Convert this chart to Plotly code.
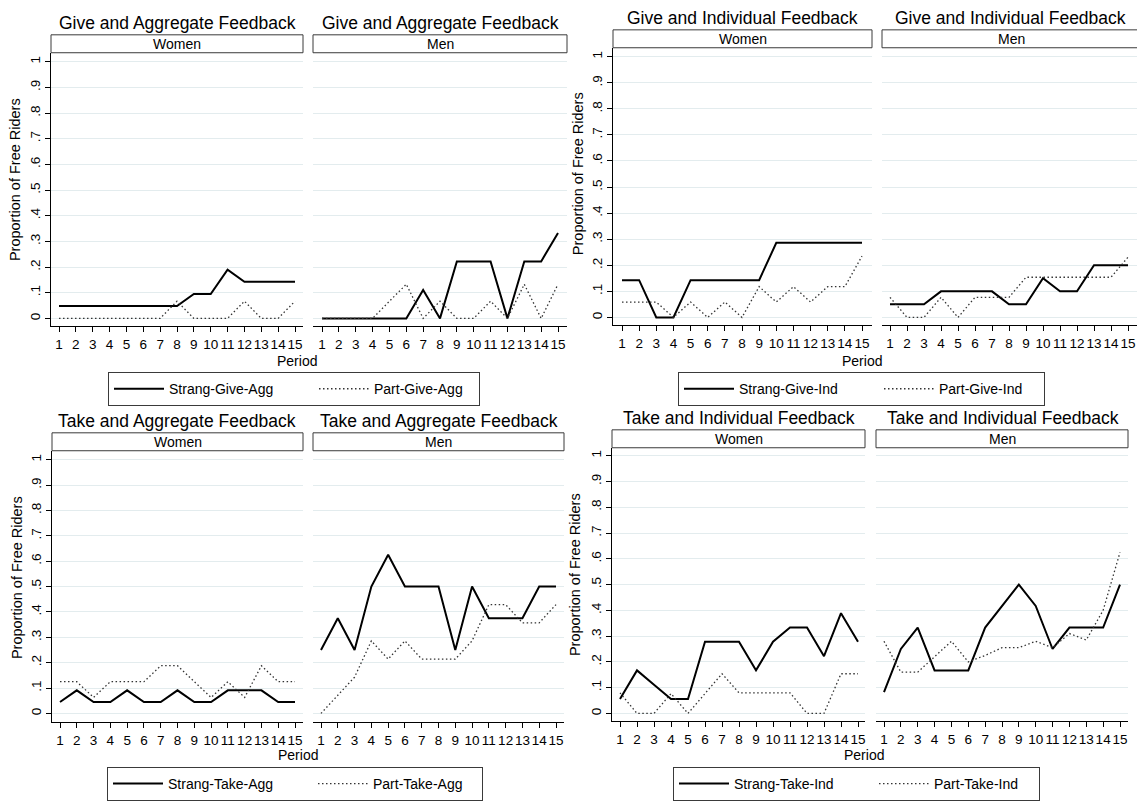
import plotly.graph_objects as go

W, H = 1137, 801
FONT = "Arial, 'Liberation Sans', Helvetica, sans-serif"

periods = list(range(1, 16))
y_tickvals = [0, 0.1, 0.2, 0.3, 0.4, 0.5, 0.6, 0.7, 0.8, 0.9, 1.0]
y_ticktext = ["0", ".1", ".2", ".3", ".4", ".5", ".6", ".7", ".8", ".9", "1"]

panel_titles = ["Give and Aggregate Feedback", "Give and Individual Feedback",
                "Take and Aggregate Feedback", "Take and Individual Feedback"]
strip_labels = ["Women", "Men"]
legend_labels = [("Strang-Give-Agg", "Part-Give-Agg"),
                 ("Strang-Give-Ind", "Part-Give-Ind"),
                 ("Strang-Take-Agg", "Part-Take-Agg"),
                 ("Strang-Take-Ind", "Part-Take-Ind")]
y_title = "Proportion of Free Riders"
x_title = "Period"

# ---- data: Give & Aggregate ----
give_agg_women_strang = [0.048, 0.048, 0.048, 0.048, 0.048, 0.048, 0.048, 0.048, 0.095, 0.095, 0.190, 0.143, 0.143, 0.143, 0.143]
give_agg_women_part   = [0, 0, 0, 0, 0, 0, 0, 0.067, 0, 0, 0, 0.067, 0, 0, 0.067]
give_agg_men_strang   = [0, 0, 0, 0, 0, 0, 0.111, 0, 0.222, 0.222, 0.222, 0, 0.222, 0.222, 0.333]
give_agg_men_part     = [0, 0, 0, 0, 0.067, 0.133, 0, 0.067, 0, 0, 0.067, 0, 0.133, 0, 0.133]
# ---- data: Give & Individual ----
give_ind_women_strang = [0.143, 0.143, 0, 0, 0.143, 0.143, 0.143, 0.143, 0.143, 0.286, 0.286, 0.286, 0.286, 0.286, 0.286]
give_ind_women_part   = [0.059, 0.059, 0.059, 0, 0.059, 0, 0.059, 0, 0.118, 0.059, 0.118, 0.059, 0.118, 0.118, 0.235]
give_ind_men_strang   = [0.05, 0.05, 0.05, 0.1, 0.1, 0.1, 0.1, 0.05, 0.05, 0.15, 0.1, 0.1, 0.2, 0.2, 0.2]
give_ind_men_part     = [0.077, 0, 0, 0.077, 0, 0.077, 0.077, 0.077, 0.154, 0.154, 0.154, 0.154, 0.154, 0.154, 0.231]
# ---- data: Take & Aggregate ----
take_agg_women_strang = [0.045, 0.091, 0.045, 0.045, 0.091, 0.045, 0.045, 0.091, 0.045, 0.045, 0.091, 0.091, 0.091, 0.045, 0.045]
take_agg_women_part   = [0.125, 0.125, 0.063, 0.125, 0.125, 0.125, 0.188, 0.188, 0.125, 0.063, 0.125, 0.063, 0.188, 0.125, 0.125]
take_agg_men_strang   = [0.25, 0.375, 0.25, 0.5, 0.625, 0.5, 0.5, 0.5, 0.25, 0.5, 0.375, 0.375, 0.375, 0.5, 0.5]
take_agg_men_part     = [0, 0.071, 0.143, 0.286, 0.214, 0.286, 0.214, 0.214, 0.214, 0.286, 0.429, 0.429, 0.357, 0.357, 0.429]
# ---- data: Take & Individual ----
take_ind_women_strang = [0.056, 0.167, 0.111, 0.056, 0.056, 0.278, 0.278, 0.278, 0.167, 0.278, 0.333, 0.333, 0.222, 0.389, 0.278]
take_ind_women_part   = [0.08, 0, 0, 0.077, 0, 0.077, 0.154, 0.08, 0.08, 0.08, 0.08, 0, 0, 0.154, 0.154]
take_ind_men_strang   = [0.083, 0.25, 0.333, 0.167, 0.167, 0.167, 0.333, 0.417, 0.5, 0.417, 0.25, 0.333, 0.333, 0.333, 0.5]
take_ind_men_part     = [0.28, 0.16, 0.16, 0.22, 0.28, 0.2, 0.225, 0.255, 0.255, 0.28, 0.255, 0.31, 0.285, 0.4, 0.625]

series = [
    (give_agg_women_strang, give_agg_women_part, give_agg_men_strang, give_agg_men_part),
    (give_ind_women_strang, give_ind_women_part, give_ind_men_strang, give_ind_men_part),
    (take_agg_women_strang, take_agg_women_part, take_agg_men_strang, take_agg_men_part),
    (take_ind_women_strang, take_ind_women_part, take_ind_men_strang, take_ind_men_part),
]

# ---- layout geometry (pixels) ----
# subplot: left, right, top, bottom, px(x=1), px(x=15), py(y=1), py(y=0)
sub_geo = [
    [(51, 303, 53, 328, 59, 295, 62, 320), (313, 567, 53, 328, 322, 558, 62, 320)],
    [(613, 872, 48, 327, 622, 862, 57, 319), (882, 1140, 48, 327, 890, 1128, 57, 319)],
    [(52, 303, 453, 726, 60, 295, 462, 717), (313, 564, 453, 726, 321, 556, 462, 717)],
    [(612, 865, 450, 725, 620, 858, 458, 717), (876, 1128, 450, 725, 884, 1120, 458, 717)],
]
strip_top = [35, 30, 435, 432]
title_pos = [((177, 440), 23), ((742, 1010), 18), ((177, 439), 423), ((739, 1003), 420)]
ytitle_pos = [(15, 181), (578, 175), (17, 581), (575, 578)]
xtitle_pos = [(297, 363), (862, 363), (298, 759), (864, 759)]
legend_pos = [(108, 374), (678, 374), (107, 771), (673, 771)]
legend_item_w = [(140, 100), (135, 100), (140, 104), (135, 100)]


def fx(px):
    return px / W


def fy(py):
    return 1 - py / H


fig = go.Figure()
layout = dict(width=W, height=H, margin=dict(l=0, r=0, t=0, b=0), autosize=False,
              paper_bgcolor="white", plot_bgcolor="white",
              font=dict(family=FONT, color="black"), showlegend=True)
shapes, annotations = [], []

GRID = "#e3ecee"
DOT = "1.5px,2.5px"
n = 0
for p in range(4):
    lname = "legend" if p == 0 else f"legend{p + 1}"
    for g in range(2):
        n += 1
        left, right, top, bottom, px1, px15, py1, py0 = sub_geo[p][g]
        ux = (px15 - px1) / 14
        uy = py0 - py1
        xr = [1 - (px1 - left) / ux, 15 + (min(right, W) - px15) / ux]
        yr = [-(bottom - py0) / uy, 1 + (py1 - top) / uy]
        xa = "xaxis" if n == 1 else f"xaxis{n}"
        ya = "yaxis" if n == 1 else f"yaxis{n}"
        xref = "x" if n == 1 else f"x{n}"
        yref = "y" if n == 1 else f"y{n}"
        layout[xa] = dict(domain=[fx(left), min(fx(right), 1.0)], range=xr, anchor=yref,
                          tickvals=periods, ticktext=[str(v) for v in periods],
                          tickangle=0,
                          showline=True, linecolor="black", linewidth=1,
                          ticks="outside", ticklen=5, tickcolor="black", tickwidth=1,
                          showgrid=False, zeroline=False, fixedrange=True,
                          tickfont=dict(size=13.5, family=FONT, color="black"))
        show_y = (g == 0)
        layout[ya] = dict(domain=[fy(bottom), fy(top)], range=yr, anchor=xref,
                          tickvals=y_tickvals, ticktext=y_ticktext,
                          showline=show_y, linecolor="black", linewidth=1,
                          ticks="outside" if show_y else "", ticklen=5, tickcolor="black",
                          showticklabels=show_y, tickangle=-90,
                          showgrid=True, gridcolor=GRID, gridwidth=1, zeroline=False,
                          fixedrange=True,
                          tickfont=dict(size=13.5, family=FONT, color="black"))
        strang = series[p][2 * g]
        part = series[p][2 * g + 1]
        fig.add_trace(go.Scatter(x=periods, y=strang, mode="lines", name=legend_labels[p][0],
                                 line=dict(color="black", width=2),
                                 xaxis=xref, yaxis=yref, legend=lname,
                                 legendwidth=legend_item_w[p][0],
                                 showlegend=show_y, hoverinfo="skip"))
        fig.add_trace(go.Scatter(x=periods, y=part, mode="lines", name=legend_labels[p][1],
                                 line=dict(color="#333333", width=1.3, dash=DOT),
                                 xaxis=xref, yaxis=yref, legend=lname,
                                 legendwidth=legend_item_w[p][1],
                                 showlegend=show_y, hoverinfo="skip"))
        # strip box
        st = strip_top[p]
        shapes.append(dict(type="rect", xref="paper", yref="paper",
                           x0=fx(left), x1=fx(right), y0=fy(top), y1=fy(st),
                           line=dict(color="#3a3a3a", width=1), fillcolor="white"))
        annotations.append(dict(text=strip_labels[g], xref="paper", yref="paper",
                                x=fx((left + right) / 2), y=fy((st + top) / 2),
                                xanchor="center", yanchor="middle", showarrow=False,
                                font=dict(size=14, family=FONT, color="black")))
        # panel title
        annotations.append(dict(text=panel_titles[p], xref="paper", yref="paper",
                                x=fx(title_pos[p][0][g]), y=fy(title_pos[p][1]),
                                xanchor="center", yanchor="middle", showarrow=False,
                                font=dict(size=17.5, family=FONT, color="black")))
    # y title
    annotations.append(dict(text=y_title, xref="paper", yref="paper",
                            x=fx(ytitle_pos[p][0]), y=fy(ytitle_pos[p][1]),
                            xanchor="center", yanchor="middle", textangle=-90, showarrow=False,
                            font=dict(size=14.5, family=FONT, color="black")))
    # x title
    annotations.append(dict(text=x_title, xref="paper", yref="paper",
                            x=fx(xtitle_pos[p][0]), y=fy(xtitle_pos[p][1]),
                            xanchor="center", yanchor="middle", showarrow=False,
                            font=dict(size=14, family=FONT, color="black")))
    # legend
    layout[lname] = dict(orientation="h", x=fx(legend_pos[p][0]), y=fy(legend_pos[p][1]),
                         xanchor="left", yanchor="top", bgcolor="white",
                         bordercolor="#3a3a3a", borderwidth=1,
                         itemwidth=50, entrywidthmode="pixels",
                         font=dict(size=14, family=FONT, color="black"),
                         tracegroupgap=0)

layout["shapes"] = shapes
layout["annotations"] = annotations
fig.update_layout(**layout)
fig.write_html("out.html", config={"displayModeBar": False},
               post_script="document.body.style.margin='0';document.body.style.padding='0';"
                           "document.body.style.overflow='hidden';")
